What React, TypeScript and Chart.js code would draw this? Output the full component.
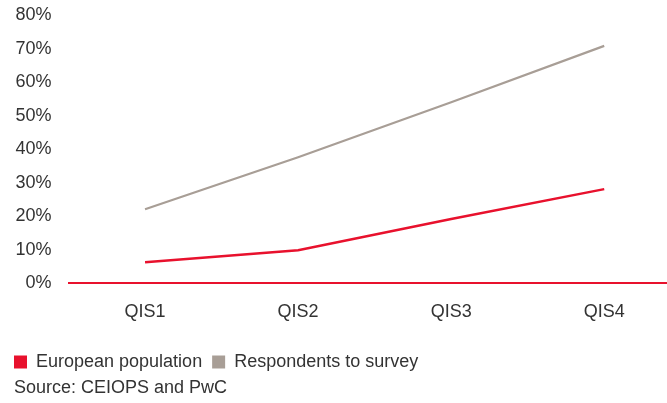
import React, { useEffect, useRef } from "react";
import { Chart, registerables } from "chart.js";

Chart.register(...registerables);

const categories = ["QIS1", "QIS2", "QIS3", "QIS4"];
const europeanPopulation = [6.3, 9.9, 19.2, 28.1];
const respondents = [22.1, 37.6, 54, 70.8];
const yTicks = [0, 10, 20, 30, 40, 50, 60, 70, 80];
const seriesNames = ["European population", "Respondents to survey"];
const sourceText = "Source: CEIOPS and PwC";

const RED = "#e8112d";
const GRAY = "#a89e96";
const FONT = "'Liberation Sans', Arial, Helvetica, sans-serif";
const FS = 18;

export default function App() {
  const ref = useRef<HTMLCanvasElement | null>(null);

  useEffect(() => {
    if (!ref.current) return;
    const sourcePlugin = {
      id: "sourceText",
      afterDraw(chart: any) {
        const ctx = chart.ctx;
        ctx.save();
        ctx.font = `${FS}px ${FONT}`;
        ctx.fillStyle = "#333333";
        ctx.textBaseline = "middle";
        ctx.textAlign = "left";
        ctx.fillText(sourceText, 14, 388);
        ctx.restore();
      },
    };
    const chart = new Chart(ref.current, {
      type: "line",
      data: {
        datasets: [
          {
            label: seriesNames[0],
            data: europeanPopulation.map((v, i) => ({ x: i + 1, y: v })),
            borderColor: RED,
            backgroundColor: RED,
            borderWidth: 2.5,
            pointRadius: 0,
            tension: 0,
          },
          {
            label: seriesNames[1],
            data: respondents.map((v, i) => ({ x: i + 1, y: v })),
            borderColor: GRAY,
            backgroundColor: GRAY,
            borderWidth: 2.2,
            pointRadius: 0,
            tension: 0,
          },
        ],
      },
      options: {
        animation: false,
        responsive: false,
        maintainAspectRatio: false,
        layout: { padding: { left: 4, right: 0, top: 15, bottom: 22 } },
        plugins: {
          legend: {
            position: "bottom",
            align: "start",
            labels: {
              boxWidth: 13,
              boxHeight: 13,
              padding: 10,
              color: "#333333",
              font: { family: FONT, size: FS },
              generateLabels: (chart: any) =>
                Chart.defaults.plugins.legend.labels
                  .generateLabels(chart)
                  .map((l: any) => ({ ...l, lineWidth: 0, strokeStyle: "transparent" })),
            },
          },
          tooltip: { enabled: false },
        },
        scales: {
          x: {
            type: "linear",
            min: 0.5,
            max: 4.41,
            grid: { display: false, drawTicks: false },
            border: { display: true, color: RED, width: 2 },
            afterBuildTicks: (axis: any) => {
              axis.ticks = categories.map((_, i) => ({ value: i + 1 }));
            },
            afterFit: (axis: any) => {
              axis.height += 2;
              axis.paddingRight = 0;
              axis.paddingLeft = 0;
            },
            ticks: {
              padding: 18,
              color: "#333333",
              font: { family: FONT, size: FS },
              callback: (v: any) => categories[Number(v) - 1] ?? "",
            },
          },
          y: {
            min: 0,
            max: 80,
            grid: { display: false, drawTicks: false },
            border: { display: false },
            afterBuildTicks: (axis: any) => {
              axis.ticks = yTicks.map((v) => ({ value: v }));
            },
            afterFit: (axis: any) => {
              axis.width = 64.5;
              axis.paddingTop = 11;
              axis.paddingBottom = 0;
            },
            ticks: {
              padding: 17,
              color: "#333333",
              font: { family: FONT, size: FS },
              callback: (v: any) => `${v}%`,
            },
          },
        },
      },
      plugins: [sourcePlugin],
    });
    return () => chart.destroy();
  }, []);

  return (
    <div style={{ position: "absolute", left: 0, top: 0, width: 667, height: 403, background: "#fff" }}>
      <canvas ref={ref} width={667} height={403} style={{ width: 667, height: 403 }} />
    </div>
  );
}
